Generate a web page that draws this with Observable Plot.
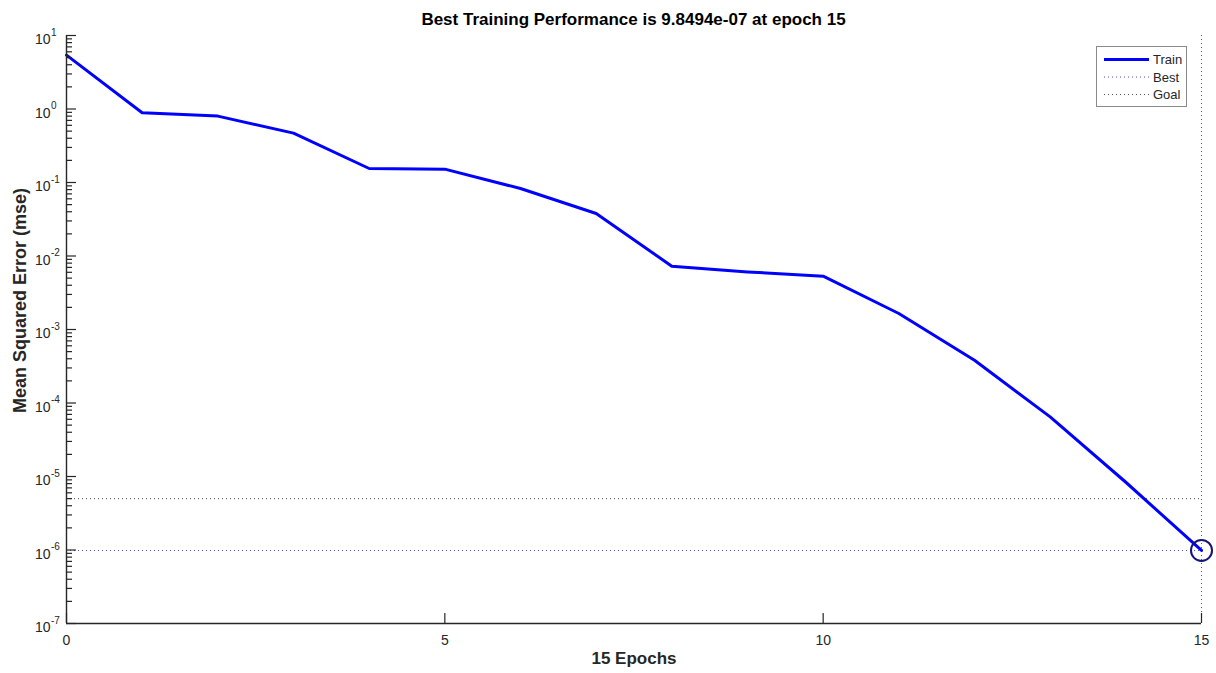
<!DOCTYPE html>
<html>
<head>
<meta charset="utf-8">
<script src="https://cdn.jsdelivr.net/npm/d3@7"></script>
<script src="https://cdn.jsdelivr.net/npm/@observablehq/plot@0.6"></script>
<style>
  html, body { margin: 0; padding: 0; background: #fff; }
  #wrap { position: relative; width: 1216px; height: 673px; overflow: hidden;
          font-family: "Liberation Sans", Arial, sans-serif; color: #262626; }
  #title { position: absolute; top: 11px; left: 66px; width: 1135px; text-align: center;
           font-weight: bold; font-size: 17px; line-height: 17px; color: #000; }
  #chart { position: absolute; top: 28px; left: 0; }
  #legend { position: absolute; left: 1096px; top: 46px; }
</style>
</head>
<body>
<div id="wrap">
  <div id="title"></div>
  <div id="chart"></div>
  <svg id="legend" width="92" height="62"></svg>
</div>
<script>
// Training record: mean squared error after each epoch
const epochs = [0, 1, 2, 3, 4, 5, 6, 7, 8, 9, 10, 11, 12, 13, 14, 15];
const trainMse = [5.4, 0.89, 0.80, 0.47, 0.155, 0.152, 0.0828, 0.0379, 0.00726, 0.00608,
                  0.00531, 0.00165, 3.82e-4, 6.47e-5, 8.35e-6, 9.8494e-7];
const bestEpoch = 15;
const bestPerf = 9.8494e-7;
const goalPerf = 5e-6;

// Axis ticks
const xTicks = [0, 5, 10, 15];
const yExponents = [-7, -6, -5, -4, -3, -2, -1, 0, 1];
const legendLabels = ["Train", "Best", "Goal"];

const titleText = `Best Training Performance is ${bestPerf.toExponential(4).replace(/e([+-])(\d)$/, "e$10$2")} at epoch ${bestEpoch}`;
document.getElementById("title").textContent = titleText;

const train = epochs.map((e, i) => ({epoch: e, mse: trainMse[i]}));
const majorY = yExponents.map(k => Math.pow(10, k));
const minorY = yExponents.slice(0, -1).flatMap(k => d3.range(2, 10).map(m => m * Math.pow(10, k)));

const axisColor = "#262626";
const bestColor = "#4a4ac4";
const goalColor = "#505050";

const chart = Plot.plot({
  width: 1216,
  height: 645,
  marginTop: 7,
  marginBottom: 50,
  marginLeft: 66,
  marginRight: 15,
  x: {domain: [0, 15], axis: null},
  y: {type: "log", domain: [1e-7, 10], axis: null},
  style: {fontFamily: '"Liberation Sans", Arial, sans-serif', color: axisColor, background: "white", overflow: "visible"},
  marks: [
    // goal and best reference lines
    Plot.ruleY([goalPerf], {x1: 0, x2: bestEpoch, stroke: goalColor, strokeWidth: 1, strokeDasharray: "1,3"}),
    Plot.ruleY([bestPerf], {x1: 0, x2: bestEpoch, stroke: bestColor, strokeWidth: 1, strokeDasharray: "1,3"}),
    Plot.ruleX([bestEpoch], {stroke: bestColor, strokeWidth: 1, strokeDasharray: "1,3"}),
    // training curve
    Plot.line(train, {x: "epoch", y: "mse", stroke: "#0000ff", strokeWidth: 3}),
    // best point
    Plot.dot([{epoch: bestEpoch, mse: bestPerf}], {x: "epoch", y: "mse", r: 10.5, stroke: "#14147a", strokeWidth: 2, fill: "none"}),
    // axis lines
    Plot.ruleX([0], {stroke: axisColor, strokeWidth: 1.4}),
    Plot.ruleY([1e-7], {stroke: axisColor, strokeWidth: 1.4}),
    // inward ticks
    Plot.axisY({ticks: majorY, tickSize: 10, dx: 10, tickFormat: () => "", label: null, strokeWidth: 1.2}),
    Plot.axisY({ticks: minorY, tickSize: 6, dx: 6, tickFormat: () => "", label: null, strokeWidth: 1.2}),
    Plot.axisX({ticks: xTicks, tickSize: 10, dy: -10, tickFormat: () => "", label: null, strokeWidth: 1.2}),
    // x tick labels
    Plot.axisX({ticks: xTicks, tickSize: 0, tickPadding: 12, tickFormat: d => String(d), label: null, fontSize: 14, fill: axisColor}),
    // y tick labels: 10 with a raised exponent
    Plot.text(majorY, {y: d => d, frameAnchor: "left", text: () => "10", textAnchor: "end", dx: -16, dy: 4.5, fontSize: 14, fill: axisColor}),
    Plot.text(majorY, {y: d => d, frameAnchor: "left", text: d => String(Math.round(Math.log10(d))), textAnchor: "start", dx: -15.5, dy: -3, fontSize: 10, fill: axisColor}),
    // axis titles
    Plot.text(["15 Epochs"], {frameAnchor: "bottom", dy: 40, fontSize: 17, fontWeight: "bold", fill: axisColor}),
    Plot.text(["Mean Squared Error (mse)"], {frameAnchor: "left", textAnchor: "middle", rotate: -90, dx: -46, dy: -29, fontSize: 18, fontWeight: "bold", fill: axisColor, ariaLabel: "y-label"})
  ]
});
// the rotated y title is drawn slightly elongated along its baseline
d3.select(chart).selectAll('g[aria-label="y-label"] text')
  .attr("textLength", 274).attr("lengthAdjust", "spacingAndGlyphs");
document.getElementById("chart").appendChild(chart);

// legend box
const lg = d3.select("#legend");
lg.append("rect").attr("x", 0.5).attr("y", 0.5).attr("width", 90).attr("height", 60)
  .attr("fill", "white").attr("stroke", "#8a8a8a").attr("stroke-width", 1);
const legendStyles = [
  {stroke: "#0000ff", width: 3, dash: null},
  {stroke: bestColor, width: 1, dash: "1,3"},
  {stroke: goalColor, width: 1, dash: "1,3"}
];
legendLabels.forEach((name, i) => {
  const y = 13.5 + i * 17.5;
  const s = legendStyles[i];
  lg.append("line").attr("x1", 8).attr("x2", 53).attr("y1", y).attr("y2", y)
    .attr("stroke", s.stroke).attr("stroke-width", s.width).attr("stroke-dasharray", s.dash);
  lg.append("text").attr("x", 57).attr("y", y).attr("dy", "0.35em")
    .attr("font-family", '"Liberation Sans", Arial, sans-serif').attr("font-size", 13)
    .attr("fill", axisColor).text(name);
});
</script>
</body>
</html>
